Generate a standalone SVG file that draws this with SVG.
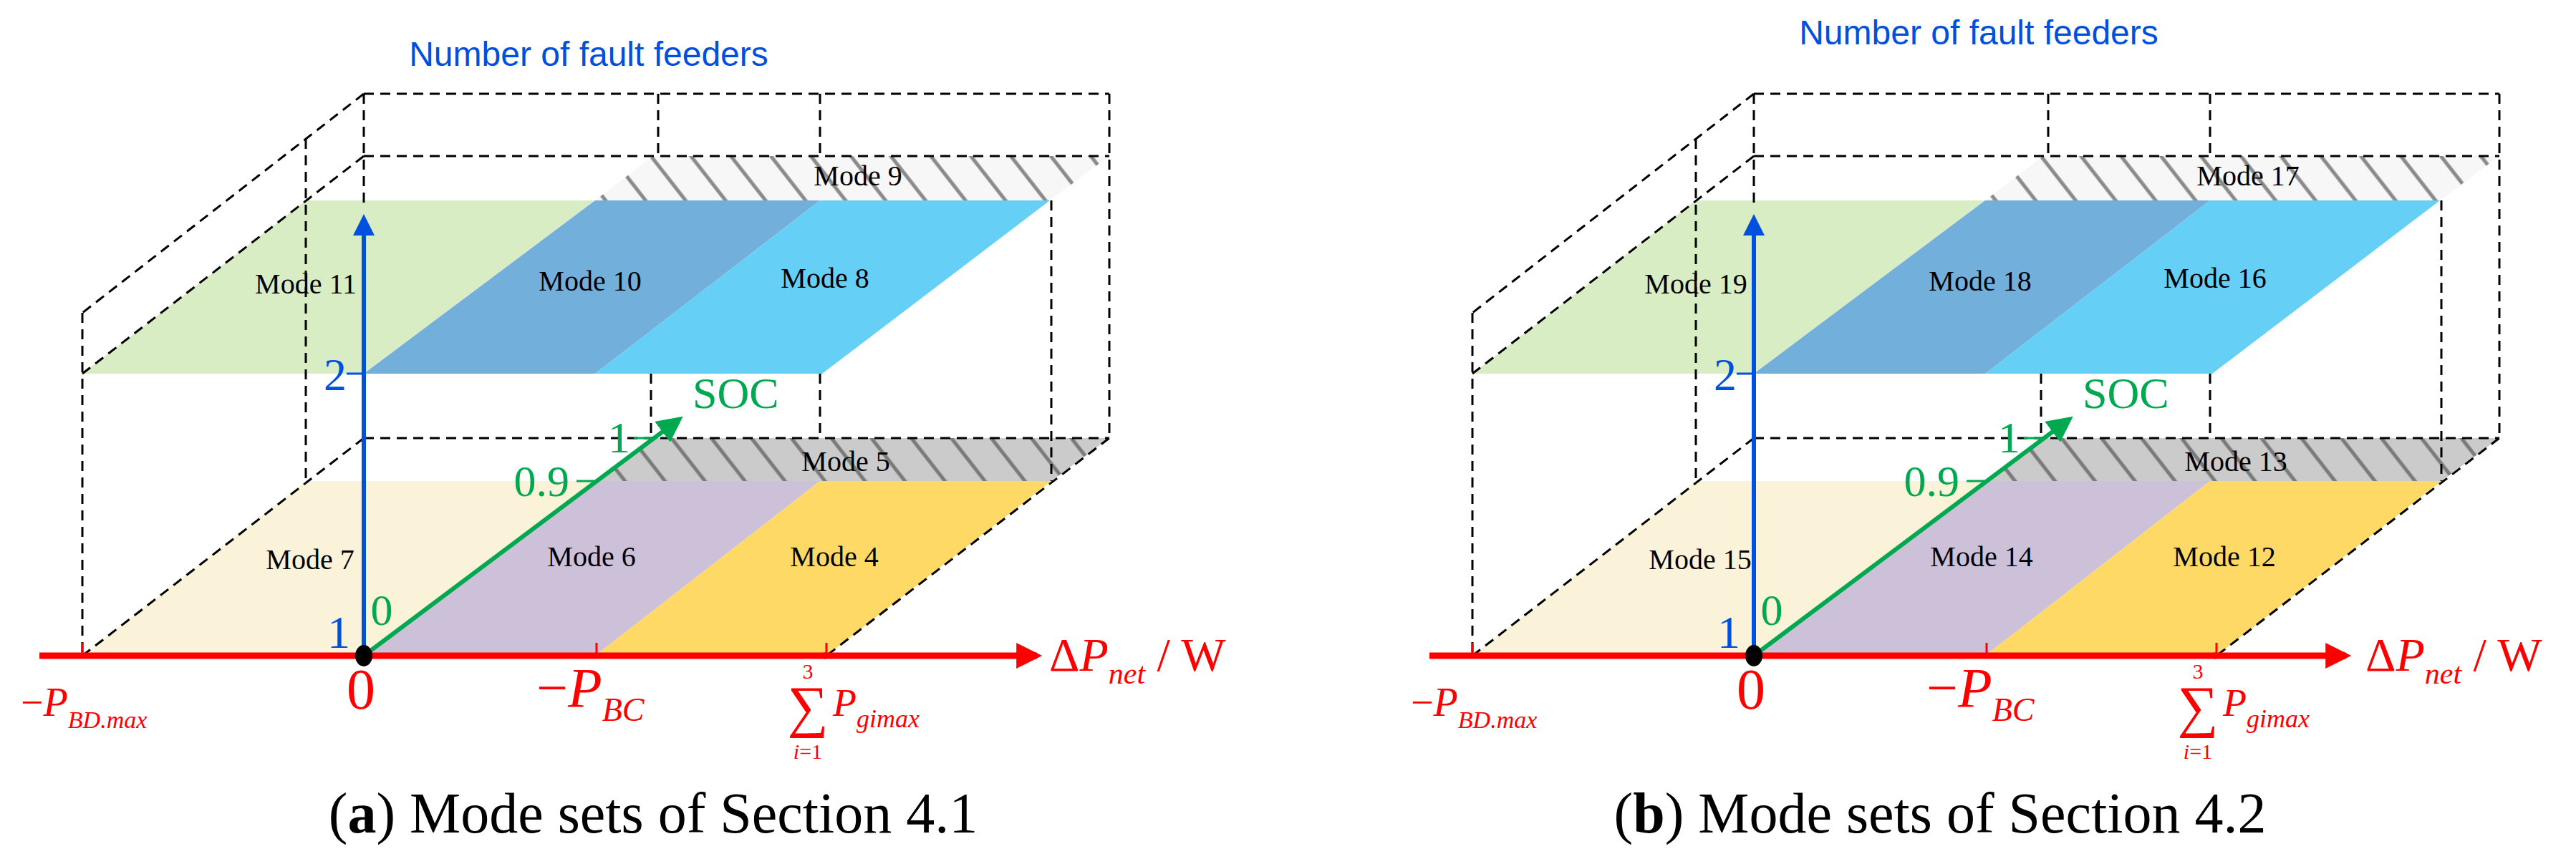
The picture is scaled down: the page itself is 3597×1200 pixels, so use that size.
<svg xmlns="http://www.w3.org/2000/svg" width="3597" height="1200" viewBox="0 0 3597 1200">
<style>
.d{stroke:#000;stroke-width:3;stroke-dasharray:14 9;fill:none}
.m{font-family:"Liberation Serif",serif;font-size:40px;fill:#000;text-anchor:middle}
.t{font-family:"Liberation Sans",sans-serif;font-size:48px;fill:#0050e0;text-anchor:middle}
.r{font-family:"Liberation Serif",serif;fill:#ff0000}
.i{font-style:italic}
.g{font-family:"Liberation Serif",serif;font-size:62px;fill:#00a84f}
.b{font-family:"Liberation Serif",serif;font-size:64px;fill:#0050e0}
.cap{font-family:"Liberation Serif",serif;font-size:80px;fill:#000;text-anchor:middle}
.ax{stroke:#ff0000;stroke-width:9}
</style>
<defs>
<pattern id="h1" width="44" height="44" patternUnits="userSpaceOnUse" patternTransform="rotate(-38)">
<rect width="44" height="44" fill="#f7f7f7"/><line x1="10" y1="0" x2="10" y2="44" stroke="#8a8a8a" stroke-width="5"/>
</pattern>
<pattern id="h2" width="44" height="44" patternUnits="userSpaceOnUse" patternTransform="rotate(-38)">
<rect width="44" height="44" fill="#cbcbcb"/><line x1="10" y1="0" x2="10" y2="44" stroke="#7a7a7a" stroke-width="5"/>
</pattern>
<marker id="ar" viewBox="0 0 10 10" refX="8" refY="5" markerWidth="4.2" markerHeight="4" orient="auto" markerUnits="strokeWidth"><path d="M0,0L10,5L0,10z" fill="#ff0000"/></marker>
<marker id="ab" viewBox="0 0 10 10" refX="8" refY="5" markerWidth="5" markerHeight="6" orient="auto" markerUnits="strokeWidth"><path d="M0,0L10,5L0,10z" fill="#0050e0"/></marker>
<marker id="ag" viewBox="0 0 10 10" refX="8" refY="5" markerWidth="6" markerHeight="6" orient="auto" markerUnits="strokeWidth"><path d="M0,0L10,5L0,10z" fill="#00a84f"/></marker>
<g id="frame">
<polygon points="427,280 831,280 508,522 115,522" fill="#d9edc4"/>
<polygon points="831,280 1145,280 831,522 508,522" fill="#73afdb"/>
<polygon points="1145,280 1466,280 1148,522 831,522" fill="#66cff5"/>
<polygon points="912,218 1549,218 1466,280 831,280" fill="url(#h1)"/>
<polygon points="427,672 831,672 508,916 115,916" fill="#fbf3d9"/>
<polygon points="831,672 1145,672 831,916 508,916" fill="#cdc1da"/>
<polygon points="1145,672 1468,672 1154,916 831,916" fill="#ffd966"/>
<polygon points="909,612 1549,612 1468,672 831,672" fill="url(#h2)"/>
<g class="d">
<path d="M508,131H1549M508,218H1549M508,131V287M919,131V218M1145,131V218M1549,131V612"/>
<path d="M508,131L115,437M508,218L115,522M115,437V916M427,194V672"/>
<path d="M508,612H1549M508,612L115,916M1549,612L1154,916M909,522V612M1145,522V612M1468,280V672"/>
</g>
<line x1="55" y1="916" x2="1154" y2="916" class="ax"/>
<path d="M115,898V916M833,898V916M1154,898V916" stroke="#ff0000" stroke-width="3"/>
<line x1="508" y1="916" x2="508" y2="305" stroke="#0050e0" stroke-width="6" marker-end="url(#ab)"/>
<line x1="484" y1="522" x2="508" y2="522" stroke="#0050e0" stroke-width="3"/>
<line x1="508" y1="916" x2="948" y2="586" stroke="#00a84f" stroke-width="6" marker-end="url(#ag)"/>
<path d="M805,672H833M885,612H913" stroke="#00a84f" stroke-width="3"/>
<ellipse cx="508" cy="916" rx="12" ry="15" fill="#000"/>
<text class="b" x="484" y="545" text-anchor="end">2</text>
<text class="b" x="473" y="905" text-anchor="middle">1</text>
<text class="g" x="533" y="873" text-anchor="middle">0</text>
<text class="g" x="795" y="693" text-anchor="end">0.9</text>
<text class="g" x="880" y="632" text-anchor="end">1</text>
<text class="g" x="967" y="570" font-size="52">SOC</text>
<text class="r" x="504" y="990" font-size="80" text-anchor="middle">0</text>
<text class="r" x="749" y="987" font-size="78">−<tspan class="i">P</tspan><tspan class="i" font-size="46" dy="20">BC</tspan></text>
<text class="r" x="29" y="1000" font-size="56">−<tspan class="i">P</tspan><tspan class="i" font-size="34" dy="17">BD.max</tspan></text>
<text class="r" x="1128" y="948" font-size="30" text-anchor="middle">3</text>
<text class="r" x="1128" y="1014" font-size="80" text-anchor="middle">∑</text>
<text class="r i" x="1128" y="1060" font-size="30" text-anchor="middle">i<tspan font-style="normal">=1</tspan></text>
<text class="r" x="1163" y="1000" font-size="54"><tspan class="i">P</tspan><tspan class="i" font-size="36" dy="16">gimax</tspan></text>
</g>
</defs>
<g id="panel-a">
<use href="#frame"/>
<line x1="1150" y1="916" x2="1448" y2="916" class="ax" marker-end="url(#ar)"/>
<text class="r" x="1465" y="937" font-size="66">Δ<tspan class="i">P</tspan><tspan class="i" font-size="42" dy="18">net</tspan><tspan dy="-18"> / W</tspan></text>
<text class="t" x="822" y="92">Number of fault feeders</text>
<g id="mode11"><text class="m" x="427" y="410">Mode 11</text></g>
<g id="mode10"><text class="m" x="824" y="406">Mode 10</text></g>
<g id="mode8"><text class="m" x="1152" y="402">Mode 8</text></g>
<g id="mode9"><text class="m" x="1198" y="259">Mode 9</text></g>
<g id="mode5"><text class="m" x="1181" y="658">Mode 5</text></g>
<g id="mode7"><text class="m" x="433" y="795">Mode 7</text></g>
<g id="mode6"><text class="m" x="826" y="791">Mode 6</text></g>
<g id="mode4"><text class="m" x="1165" y="791">Mode 4</text></g>
<text class="cap" x="912" y="1163">(<tspan font-weight="bold">a</tspan>) Mode sets of Section 4.1</text>
</g>
<g id="panel-b">
<use href="#frame" transform="translate(1941,0)"/>
<line x1="3091" y1="916" x2="3276" y2="916" class="ax" marker-end="url(#ar)"/>
<text class="r" x="3303" y="937" font-size="66">Δ<tspan class="i">P</tspan><tspan class="i" font-size="42" dy="18">net</tspan><tspan dy="-18"> / W</tspan></text>
<text class="t" x="2763" y="62">Number of fault feeders</text>
<g id="mode19"><text class="m" x="2368" y="410">Mode 19</text></g>
<g id="mode18"><text class="m" x="2765" y="406">Mode 18</text></g>
<g id="mode16"><text class="m" x="3093" y="402">Mode 16</text></g>
<g id="mode17"><text class="m" x="3139" y="259">Mode 17</text></g>
<g id="mode13"><text class="m" x="3122" y="658">Mode 13</text></g>
<g id="mode15"><text class="m" x="2374" y="795">Mode 15</text></g>
<g id="mode14"><text class="m" x="2767" y="791">Mode 14</text></g>
<g id="mode12"><text class="m" x="3106" y="791">Mode 12</text></g>
<text class="cap" x="2709" y="1163">(<tspan font-weight="bold">b</tspan>) Mode sets of Section 4.2</text>
</g>
</svg>
